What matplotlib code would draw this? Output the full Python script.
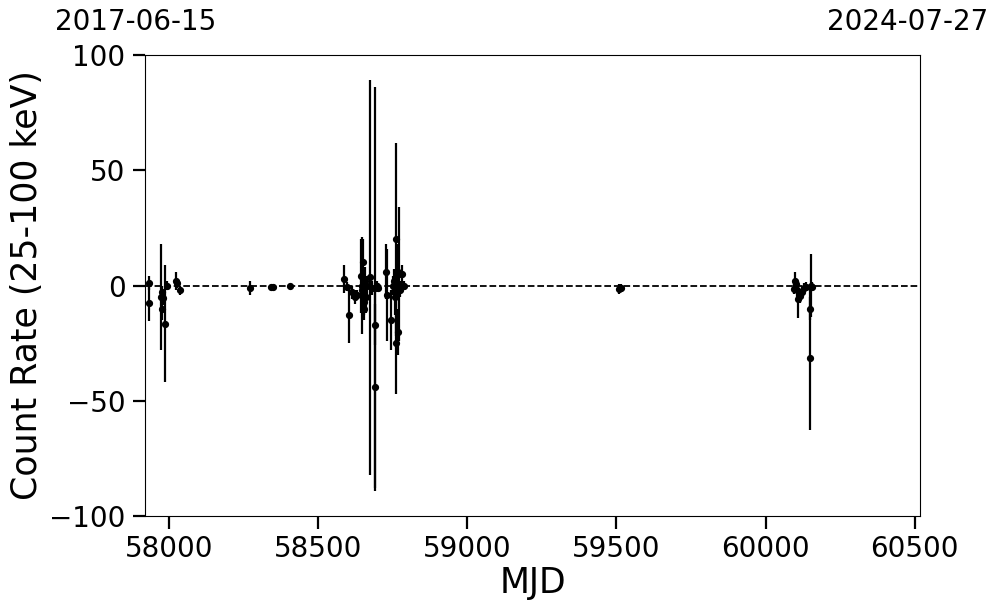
import numpy as np
import matplotlib
matplotlib.use("Agg")
import matplotlib.pyplot as plt

# light curve points: MJD, rate, 1-sigma error
mjd = [57932, 57932, 57973, 57975, 57977, 57979, 57986, 57993, 58023, 58027, 58036,
       58271, 58342, 58348, 58405,
       58586, 58596, 58603, 58613, 58623, 58630, 58643, 58646, 58648, 58650, 58653,
       58655, 58657, 58660, 58663, 58674, 58680, 58690, 58690, 58691, 58697, 58700,
       58727, 58730, 58744, 58750, 58753, 58757, 58761, 58761, 58763, 58766, 58768,
       58772, 58775, 58778, 58782, 58786,
       59510, 59516,
       60096, 60100, 60103, 60106, 60110, 60116, 60122, 60129, 60135, 60149, 60149,
       60151, 60155]
rate = [1.0, -7.5, -5.0, -3.0, -10.0, -5.5, -16.5, 0.0, 2.0, 1.0, -2.0,
        -1.0, -0.8, -0.5, -0.3,
        2.8, -0.5, -13.0, -3.0, -5.0, -4.0, 4.0, 0.0, -2.0, 10.0, -7.0,
        -10.0, 2.0, -5.0, 0.0, 3.5, -1.0, -1.0, -44.0, -17.0, 0.0, -1.0,
        6.0, -4.0, -15.0, 0.0, 2.0, -5.0, 20.0, -25.0, -1.0, 6.0, -20.0,
        5.0, -2.0, 0.0, 5.0, 0.0,
        -1.5, -1.0,
        -1.5, 2.0, 0.5, -2.0, -6.0, -4.5, -3.0, -1.0, -0.5, -31.5, -10.0,
        0.0, -0.5]
err = [3.0, 8.0, 23.0, 3.0, 5.0, 3.0, 25.5, 2.0, 4.0, 2.0, 2.0,
       3.0, 1.0, 1.0, 0.8,
       6.0, 2.0, 12.0, 3.0, 3.0, 2.0, 16.0, 21.0, 5.0, 10.0, 6.0,
       5.0, 6.0, 7.0, 4.0, 85.5, 3.0, 87.0, 45.0, 9.0, 2.0, 2.0,
       12.0, 20.0, 13.0, 4.0, 5.0, 8.0, 42.0, 22.0, 3.0, 12.0, 10.0,
       29.0, 3.0, 2.0, 4.0, 2.0,
       2.0, 1.5,
       2.0, 4.0, 2.0, 3.0, 8.0, 3.0, 3.0, 2.0, 2.0, 31.0, 5.0,
       13.7, 2.0]

start_date = "2017-06-15"
end_date = "2024-07-27"
xlim = (57919, 60518)

fig = plt.figure(figsize=(9.97, 6.13), dpi=100)
ax = fig.add_axes([0.1454, 0.1582, 0.7774, 0.7521])

ax.errorbar(mjd, rate, yerr=err, fmt='o', color='black', ms=4.2,
            elinewidth=1.6, capsize=0)
ax.axhline(0, color='black', linestyle='--', linewidth=1.3)

ax.set_xlim(*xlim)
ax.set_ylim(-100, 100)
ax.set_xticks([58000, 58500, 59000, 59500, 60000, 60500])
ax.set_yticks([-100, -50, 0, 50, 100])
ax.tick_params(axis='both', which='major', labelsize=20, length=9, width=1.6, pad=5)

ax.set_xlabel('MJD', fontsize=25, labelpad=2)
ax.set_ylabel('Count Rate (25-100 keV)', fontsize=25, labelpad=4)

fig.text(0.1364, 0.964, start_date, fontsize=20, ha='center', va='center')
fig.text(0.9107, 0.964, end_date, fontsize=20, ha='center', va='center')

plt.savefig('out.png', dpi=100)
